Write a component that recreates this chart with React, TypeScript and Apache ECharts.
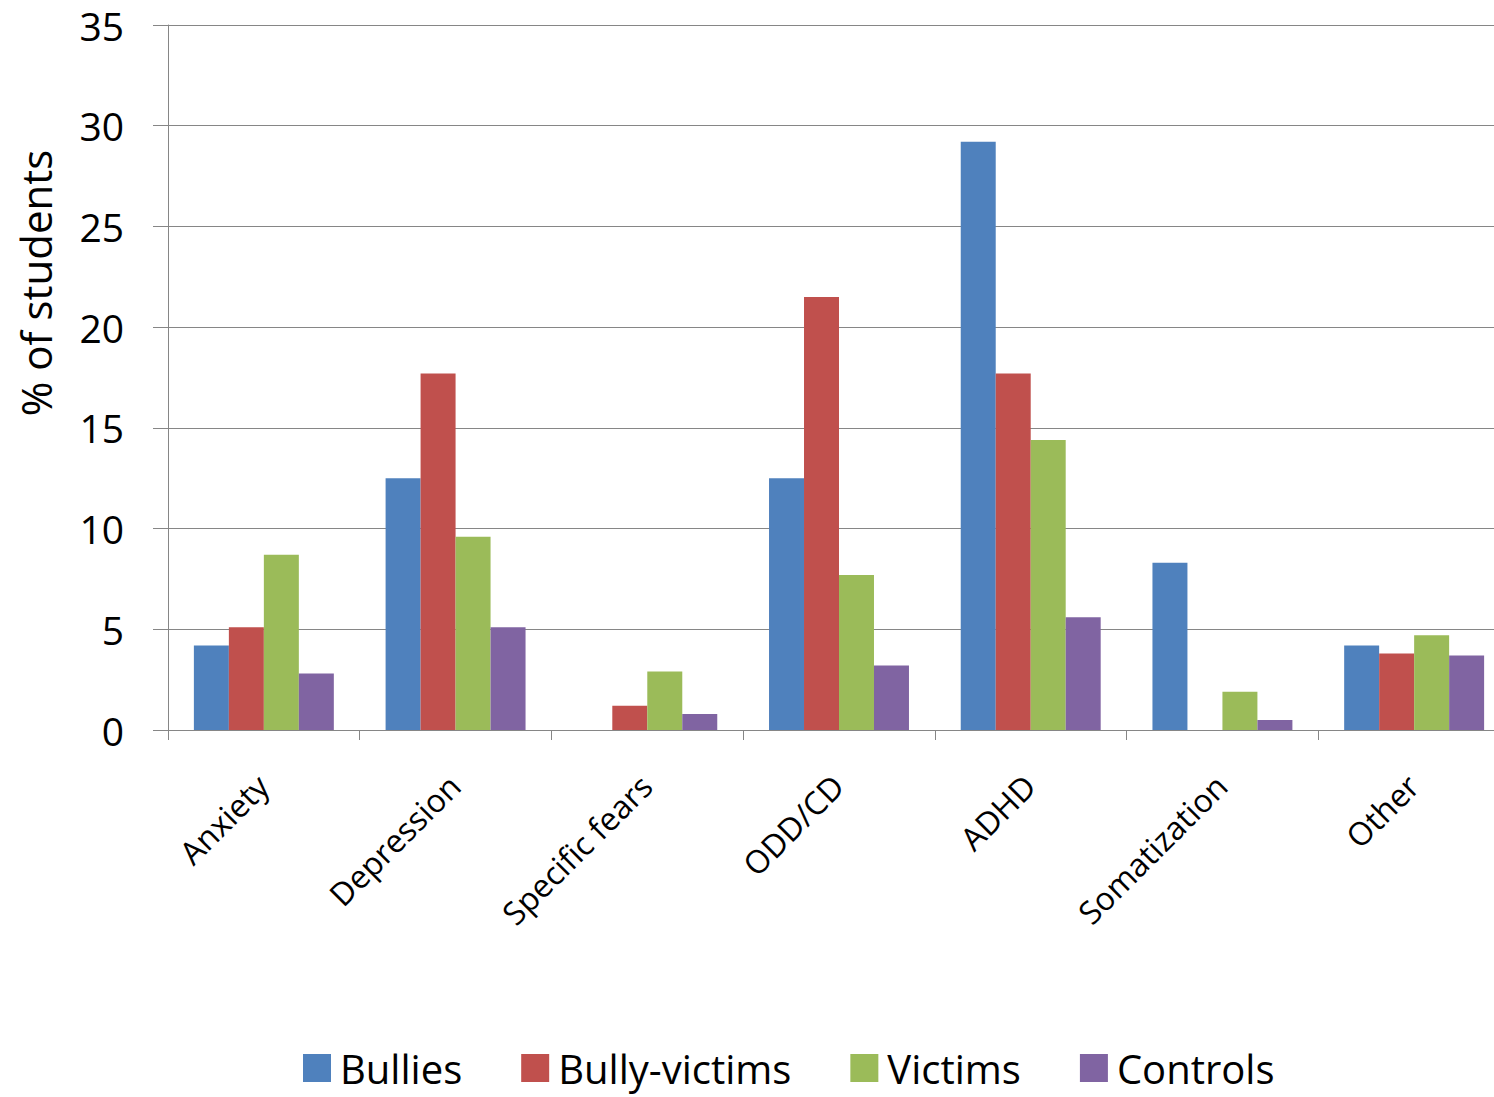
import React, { useEffect, useRef } from "react";
import * as echarts from "echarts";

const categories = ["Anxiety", "Depression", "Specific fears", "ODD/CD", "ADHD", "Somatization", "Other"];
const seriesNames = ["Bullies", "Bully-victims", "Victims", "Controls"];
const bullies = [4.2, 12.5, 0, 12.5, 29.2, 8.3, 4.2];
const bullyVictims = [5.1, 17.7, 1.2, 21.5, 17.7, 0, 3.8];
const victims = [8.7, 9.6, 2.9, 7.7, 14.4, 1.9, 4.7];
const controls = [2.8, 5.1, 0.8, 3.2, 5.6, 0.5, 3.7];
const colors = ["#4F81BD", "#C0504D", "#9BBB59", "#8064A2"];
const yAxisTitle = "% of students";

export default function App() {
  const ref = useRef<HTMLDivElement>(null);
  useEffect(() => {
    if (!ref.current) return;
    const chart = echarts.init(ref.current, null, { renderer: "svg" });
    const font = "'Open Sans', 'Noto Sans', sans-serif";
    const values = [bullies, bullyVictims, victims, controls];
    chart.setOption({
      animation: false,
      backgroundColor: "#ffffff",
      textStyle: { fontFamily: font, color: "#000" },
      grid: { left: 168, top: 25, bottom: 367, right: 0, containLabel: false },
      legend: {
        data: seriesNames,
        left: 298,
        top: 1040,
        icon: "rect",
        itemWidth: 28,
        itemHeight: 28,
        itemGap: 59,
        textStyle: { fontFamily: font, fontSize: 40, color: "#000", lineHeight: 46, padding: [0, 0, 0, 4] },
      },
      graphic: [
        {
          type: "text",
          x: 35,
          y: 283,
          rotation: Math.PI / 2,
          style: {
            text: yAxisTitle,
            fontFamily: font,
            fontSize: 42,
            fill: "#000",
            textAlign: "center",
            textVerticalAlign: "middle",
          },
        },
      ],
      xAxis: {
        type: "category",
        data: categories,
        axisLine: { lineStyle: { color: "#868686", width: 1 } },
        axisTick: { show: true, length: 10, lineStyle: { color: "#868686" } },
        axisLabel: {
          rotate: 45,
          align: "right",
          verticalAlign: "top",
          margin: 26,
          padding: [0, 18, 0, 0],
          fontFamily: font,
          fontSize: 32,
          color: "#000",
          interval: 0,
        },
      },
      yAxis: {
        type: "value",
        min: 0,
        max: 35,
        interval: 5,
        axisLine: { show: true, lineStyle: { color: "#868686", width: 1 } },
        axisTick: { show: true, length: 15, lineStyle: { color: "#868686" } },
        splitLine: { lineStyle: { color: "#868686", width: 1 } },
        axisLabel: { fontFamily: font, fontSize: 39, color: "#000", margin: 44 },
      },
      series: seriesNames.map((name, i) => ({
        name,
        type: "bar",
        data: values[i],
        barGap: "0%",
        barCategoryGap: "27%",
        itemStyle: { color: colors[i] },
      })),
    });
    return () => chart.dispose();
  }, []);
  return (
    <div style={{ position: "absolute", left: 0, top: 0, width: 1494, height: 1097, overflow: "hidden" }}>
      <div ref={ref} style={{ position: "absolute", left: 0, top: 0, width: 1510, height: 1097 }} />
    </div>
  );
}
